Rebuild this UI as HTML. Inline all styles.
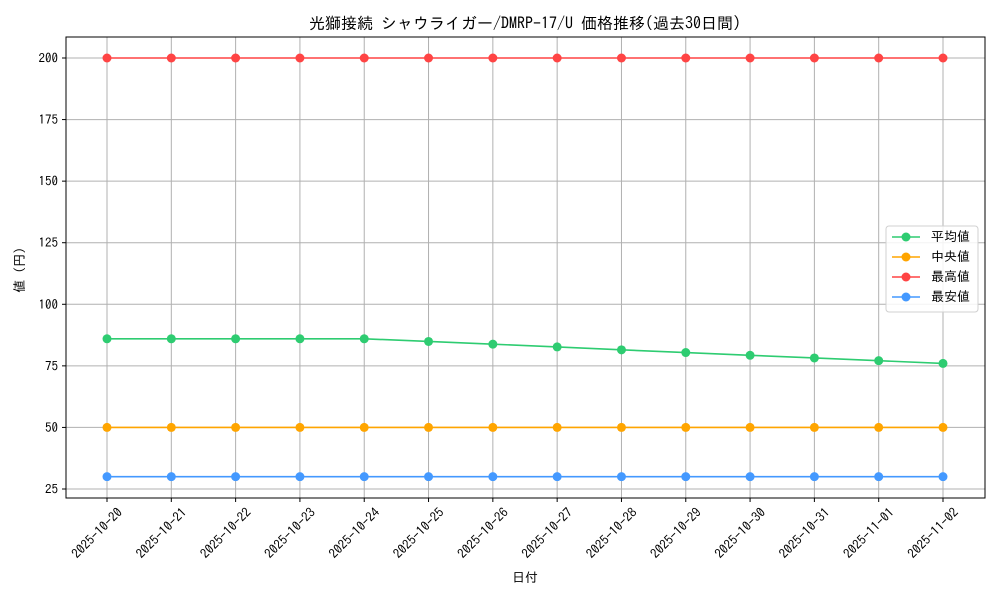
<!DOCTYPE html>
<html><head><meta charset="utf-8"><style>
body{margin:0;background:#fff}
svg{font-family:"IPAGothic","Liberation Sans","Noto Sans CJK JP",sans-serif}
</style></head><body>
<svg id="c" width="1000" height="600">
<rect x="0" y="0" width="1000" height="600" fill="#fff"/>
<text x="525" y="29" font-size="16" text-anchor="middle">光獅接続 シャウライガー/DMRP-17/U 価格推移(過去30日間)</text>
<g id="grid"></g><g id="series"></g>
<rect x="66" y="37" width="919" height="461" fill="none" stroke="#000" stroke-width="1"/>
<g id="axes" font-size="13"></g>
<text x="525" y="582" font-size="13" text-anchor="middle">日付</text>
<text transform="translate(24,270) rotate(-90)" font-size="13" text-anchor="middle">値 (円)</text>
<g id="legend"></g>
</svg>
<script>
const dates=["2025-10-20","2025-10-21","2025-10-22","2025-10-23","2025-10-24","2025-10-25","2025-10-26","2025-10-27","2025-10-28","2025-10-29","2025-10-30","2025-10-31","2025-11-01","2025-11-02"];
const avgVals=[86,86,86,86,86,84.9,83.8,82.7,81.5,80.4,79.3,78.2,77.1,76.0];
const medVals=[50,50,50,50,50,50,50,50,50,50,50,50,50,50];
const maxVals=[200,200,200,200,200,200,200,200,200,200,200,200,200,200];
const minVals=[30,30,30,30,30,30,30,30,30,30,30,30,30,30];
const yTicks=[25,50,75,100,125,150,175,200];
const seriesNames=["平均値","中央値","最高値","最安値"];
const colors=["#2ecc71","#ffa500","#ff4444","#4499ff"];
const NS="http://www.w3.org/2000/svg";
const X=i=>107+i*(943-107)/(dates.length-1);
const Y=v=>489-(v-25)*(489-58)/175;
function mk(t,a,p){const e=document.createElementNS(NS,t);for(const k in a)e.setAttribute(k,a[k]);p.appendChild(e);return e;}
const grid=document.getElementById('grid'),axes=document.getElementById('axes'),ser=document.getElementById('series'),leg=document.getElementById('legend');
dates.forEach((d,i)=>{
 const l=mk('line',{x1:X(i),x2:X(i),y1:37,y2:498,stroke:'#b0b0b0','stroke-width':1},grid);
 
 
 mk('line',{x1:X(i),x2:X(i),y1:498,y2:502,stroke:'#000'},axes);
 const t=mk('text',{x:0,y:0,'text-anchor':'end',transform:`translate(${X(i)+10},${507}) rotate(-45)`,'dominant-baseline':'hanging'},axes);
 t.textContent=d;
 
 
});
yTicks.forEach(v=>{
 const l=mk('line',{x1:66,x2:985,y1:Y(v),y2:Y(v),stroke:'#b0b0b0','stroke-width':1},grid);
 
 
 mk('line',{x1:62,x2:66,y1:Y(v),y2:Y(v),stroke:'#000'},axes);
 const t=mk('text',{x:58,y:Y(v)+4.5,'text-anchor':'end'},axes);
 t.textContent=v;
 
 
});
[avgVals,medVals,maxVals,minVals].forEach((vals,s)=>{
 const g=mk('g',{},ser);
 
 
 mk('polyline',{points:vals.map((v,i)=>X(i)+','+Y(v)).join(' '),fill:'none',stroke:colors[s],'stroke-width':1.6},g);
 vals.forEach((v,i)=>{
  const c=mk('circle',{cx:X(i),cy:Y(v),r:4.5,fill:colors[s]},g);
  
  
 });
});
const lb=mk('rect',{x:886,y:226,width:92,height:86,fill:'#fff','fill-opacity':0.85,stroke:'#d0d0d0',rx:3},leg);


seriesNames.forEach((n,s)=>{
 const y=237+s*20;
 const g=mk('g',{},leg);
 
 
 mk('line',{x1:892,x2:920,y1:y,y2:y,stroke:colors[s],'stroke-width':1.6},g);
 mk('circle',{cx:906,cy:y,r:4.5,fill:colors[s]},g);
 const t=mk('text',{x:931,y:y+4,'font-size':13},g);t.textContent=n;
});
</script>
</body></html>
